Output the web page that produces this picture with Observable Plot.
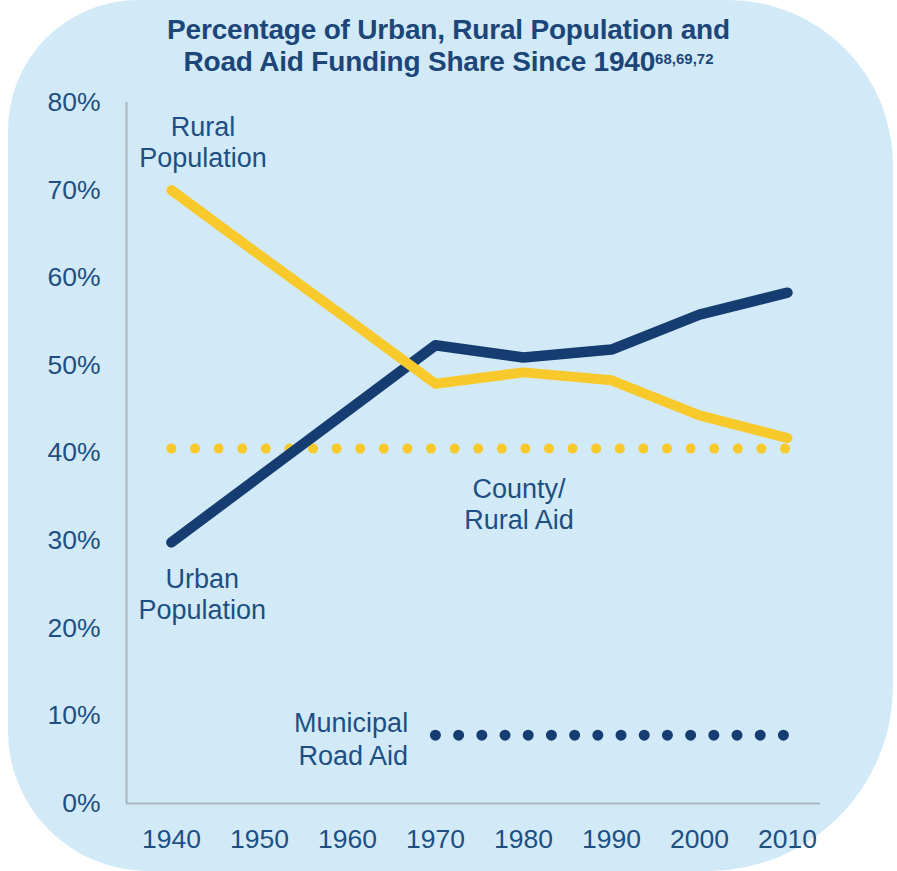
<!DOCTYPE html>
<html><head><meta charset="utf-8">
<script src="https://cdn.jsdelivr.net/npm/d3@7"></script>
<script src="https://cdn.jsdelivr.net/npm/@observablehq/plot@0.6"></script>
<style>
html,body{margin:0;padding:0;background:#fff;}
#wrap{position:relative;width:897px;height:871px;overflow:hidden;}
#bg{position:absolute;left:8px;top:0;width:885px;height:871px;background:#d2eaf7;border-radius:130px 165px 185px 140px;}
#title{position:relative;height:88px;box-sizing:border-box;padding-top:14px;text-align:center;font:bold 28px/32px "Liberation Sans",Arial,sans-serif;color:#1b4677;letter-spacing:-0.2px;}
#title sup{font-size:15px;vertical-align:top;position:relative;top:-3px;letter-spacing:0;}
#chart{position:relative;}
</style></head><body>
<div id="wrap"><div id="bg"></div>
<div id="title">Percentage of Urban, Rural Population and<br>Road Aid Funding Share Since 1940<sup>68,69,72</sup></div>
<div id="chart"></div></div>
<script>
// Data
const years = [1940, 1950, 1960, 1970, 1980, 1990, 2000, 2010];
const urbanPct = [29.8, 37.3, 44.8, 52.3, 50.9, 51.8, 55.8, 58.3];
const ruralPct = [70.0, 62.6, 55.3, 47.9, 49.2, 48.3, 44.3, 41.7];
const countyYears = [1940, 2010];
const countyAidPct = [40.5, 40.5];
const municipalYears = [1970, 2010];
const municipalAidPct = [7.8, 7.8];
const yTicks = [0, 10, 20, 30, 40, 50, 60, 70, 80];
const xTicks = years;
const centerLabels = ["Rural\nPopulation", "Urban\nPopulation", "County/\nRural Aid"];
const centerLabelYears = [1943.6, 1943.5, 1979.5];
const centerLabelPct = [78.65, 27.1, 37.35];
const endLabels = ["Municipal\nRoad Aid"];
const endLabelYears = [1966.9];
const endLabelPct = [10.75];

const xMin = 1934.9, xMax = 2013.75;
const urban = years.map((y, i) => ({year: y, v: urbanPct[i]}));
const rural = years.map((y, i) => ({year: y, v: ruralPct[i]}));
const county = countyYears.map((y, i) => ({year: y, v: countyAidPct[i]}));
const muni = municipalYears.map((y, i) => ({year: y, v: municipalAidPct[i]}));
const cLabels = centerLabels.map((t, i) => ({t, year: centerLabelYears[i], v: centerLabelPct[i]}));
const eLabels = endLabels.map((t, i) => ({t, year: endLabelYears[i], v: endLabelPct[i]}));

const navy = "#163d72", yellow = "#f8c92a", textCol = "#1d4f82", axisCol = "#a7b6c2";

const chart = Plot.plot({
  width: 897, height: 783,
  marginLeft: 126, marginRight: 77, marginTop: 14, marginBottom: 68,
  style: {background: "transparent", fontFamily: '"Liberation Sans", Arial, sans-serif', fontSize: "26.5px", color: textCol, overflow: "visible"},
  x: {domain: [xMin, xMax]},
  y: {domain: [0, 80]},
  marks: [
    Plot.axisY(yTicks, {tickSize: 0, tickPadding: 26, tickFormat: d => d + "%", label: null}),
    Plot.axisX(xTicks, {tickSize: 0, tickPadding: 26, tickFormat: d => String(d), label: null}),
    Plot.ruleY([0], {stroke: axisCol, strokeWidth: 2}),
    Plot.ruleX([xMin], {stroke: axisCol, strokeWidth: 2}),
    Plot.line(county, {x: "year", y: "v", stroke: yellow, strokeWidth: 10, strokeDasharray: "0 23.6", strokeLinecap: "round"}),
    Plot.line(muni, {x: "year", y: "v", stroke: navy, strokeWidth: 11, strokeDasharray: "0 23.2", strokeLinecap: "round"}),
    Plot.line(urban, {x: "year", y: "v", stroke: navy, strokeWidth: 10.5, strokeLinecap: "round", strokeLinejoin: "round"}),
    Plot.line(rural, {x: "year", y: "v", stroke: yellow, strokeWidth: 10, strokeLinecap: "round", strokeLinejoin: "round"}),
    Plot.text(cLabels, {x: "year", y: "v", text: "t", textAnchor: "middle", lineAnchor: "top", lineHeight: 1.15, fontSize: 27, fill: textCol}),
    Plot.text(eLabels, {x: "year", y: "v", text: "t", textAnchor: "end", lineAnchor: "top", lineHeight: 1.2, fontSize: 27, fill: textCol})
  ]
});
document.getElementById("chart").appendChild(chart);
</script>
</body></html>
